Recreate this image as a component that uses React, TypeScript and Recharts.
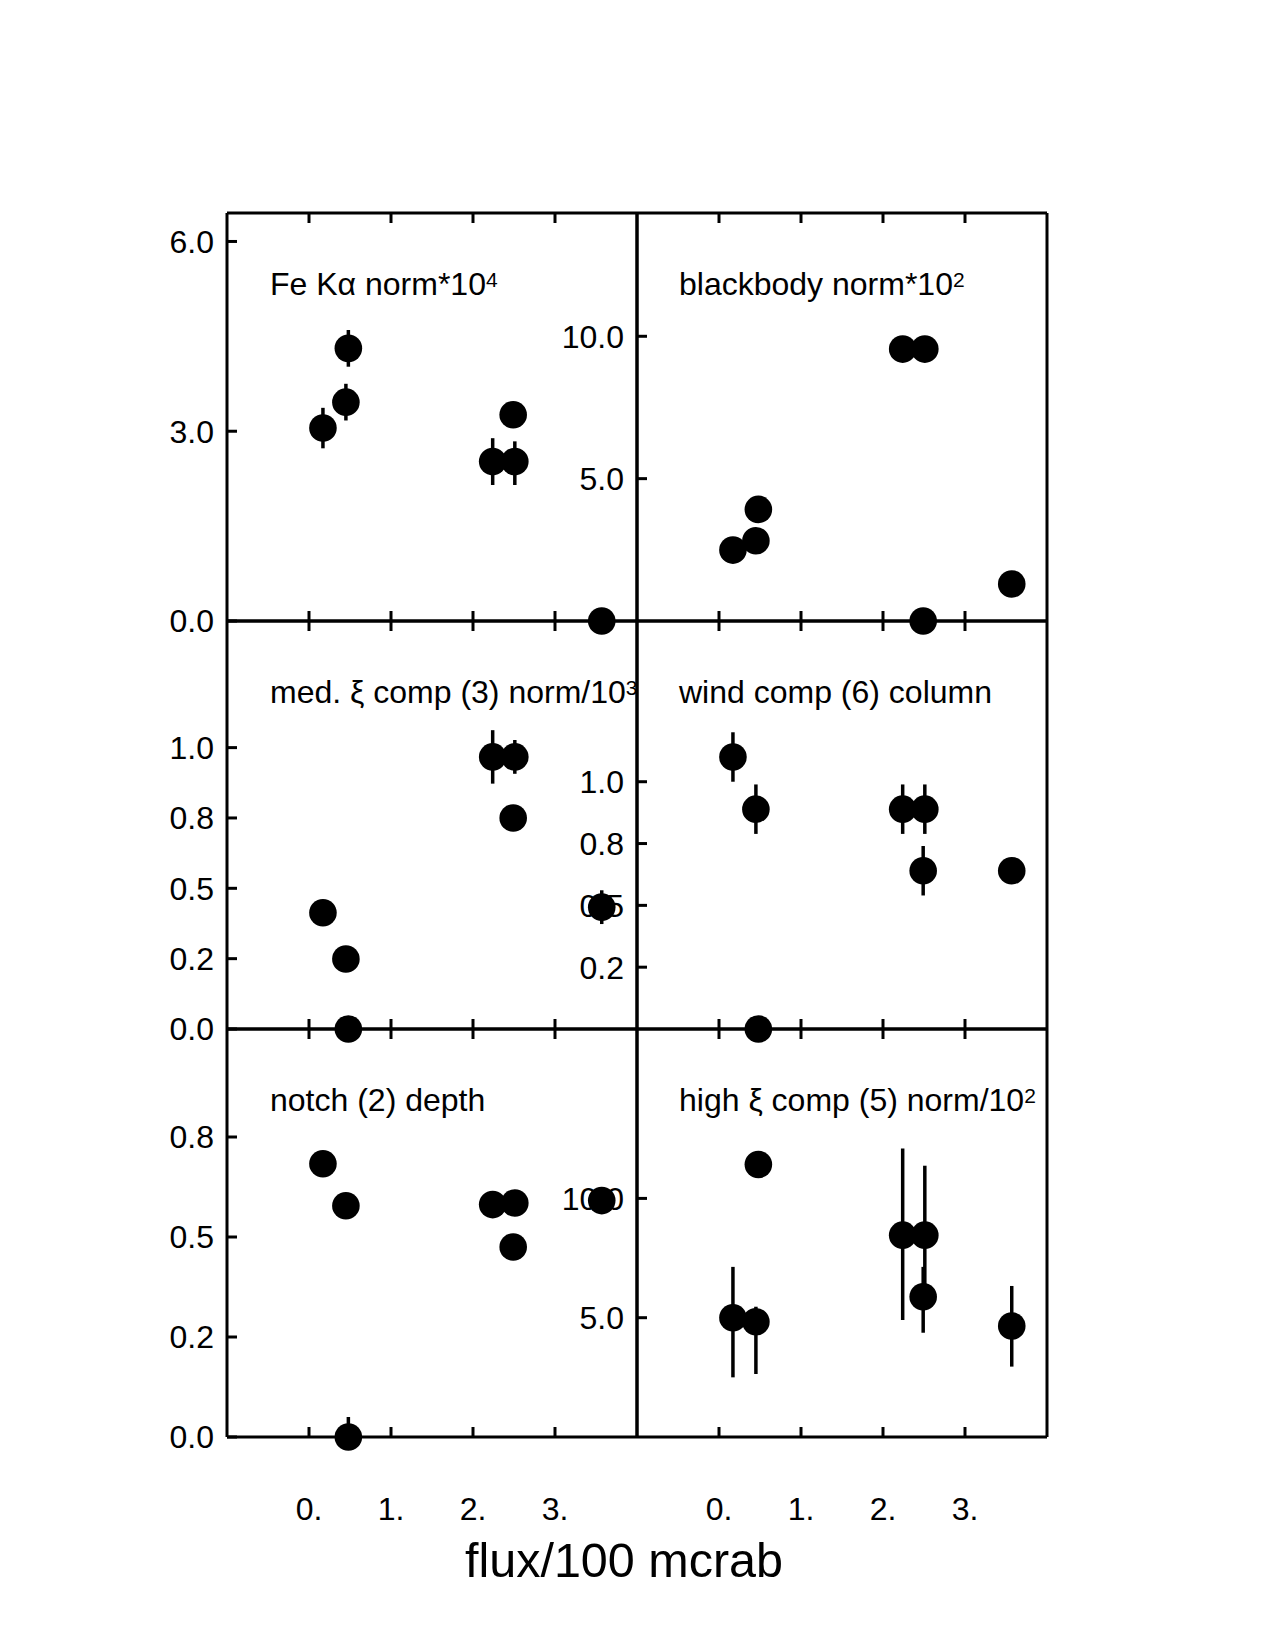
import React from 'react';
import { ScatterChart, Scatter, XAxis, YAxis, ErrorBar } from 'recharts';

// source flux for the seven observations (units of 100 mcrab)
const flux = [0.17, 0.45, 0.48, 2.24, 2.51, 2.49, 3.57];
const fluxTicks = [0, 1, 2, 3];
const fluxTickLabels = ['0.', '1.', '2.', '3.'];

// Fe K-alpha norm * 1e4
const feNorm = [3.05, 3.46, 4.31, 2.52, 2.52, 3.26, 0];
const feNormErr: any[] = [0.32, 0.29, 0.29, 0.37, [0.37, 0.32], 0, 0];
const feTicks = [0, 3, 6];
const feTickLabels = ['0.0', '3.0', '6.0'];

// blackbody norm * 1e2
const bbNorm = [2.49, 2.82, 3.92, 9.55, 9.55, 0, 1.3];
const bbNormErr: any[] = [0, 0, 0, 0, 0, 0, 0];
const bbTicks = [5, 10];
const bbTickLabels = ['5.0', '10.0'];

// medium xi component (3) norm / 1e3
const medNorm = [0.413, 0.249, 0, 0.967, 0.967, 0.75, 0.433];
const medNormErr: any[] = [0, 0, 0, 0.095, 0.06, 0, 0.06];
const medTicks = [0, 0.25, 0.5, 0.75, 1];
const medTickLabels = ['0.0', '0.2', '0.5', '0.8', '1.0'];

// wind component (6) column
const windCol = [1.1, 0.889, 0, 0.889, 0.889, 0.64, 0.64];
const windColErr: any[] = [0.1, 0.1, 0, 0.1, 0.1, 0.1, 0];
const windTicks = [0.25, 0.5, 0.75, 1];
const windTickLabels = ['0.2', '0.5', '0.8', '1.0'];

// notch (2) depth
const notchDepth = [0.683, 0.578, 0, 0.581, 0.585, 0.475, 0.591];
const notchDepthErr: any[] = [0, 0, [0, 0.05], 0, 0, 0, 0];
const notchTicks = [0, 0.25, 0.5, 0.75];
const notchTickLabels = ['0.0', '0.2', '0.5', '0.8'];

// high xi component (5) norm / 1e2
const highNorm = [5.0, 4.83, 11.42, 8.46, 8.46, 5.88, 4.65];
const highNormErr: any[] = [[2.5, 2.13], [2.19, 0.63], 0, [3.56, 3.63], [2.6, 2.91], [1.51, 1.25], [1.7, 1.68]];
const highTicks = [5, 10];
const highTickLabels = ['5.0', '10.0'];

const FONT = '"Liberation Sans", Arial, Helvetica, sans-serif';
const PLOT_W = 410;
const PLOT_H = 408;
const AX_L = 110;
const PAD = 22;
const LINE = { stroke: '#000', strokeWidth: 3 };
const TICK_TEXT = { fontSize: 32, fill: '#000', fontFamily: FONT };

const Dot = (p: any) => <circle cx={p.cx} cy={p.cy} r={13.8} fill="#000" />;
// tick marks only, no label
const NoLabel = () => <g />;
const NoShape = () => <g />;

interface PanelProps {
  left: number;
  top: number;
  ys: number[];
  errs: any[];
  yMax: number;
  ticks: number[];
  tickLabels: string[];
  xLabels?: boolean;
}

const Panel = ({ left, top, ys, errs, yMax, ticks, tickLabels, xLabels }: PanelProps) => {
  const bottomH = xLabels ? 150 : PAD;
  const data = flux.map((x, i) => ({ x, y: ys[i], err: errs[i] }));

  return (
    <div style={{ position: 'absolute', left: left - AX_L, top: top - PAD }}>
      <ScatterChart
        width={AX_L + PLOT_W + PAD}
        height={PAD + PLOT_H + bottomH}
        margin={{ top: 0, right: 0, bottom: 0, left: 0 }}
      >
        <XAxis
          xAxisId="b"
          dataKey="x"
          type="number"
          domain={[-1, 4]}
          ticks={fluxTicks}
          interval={0}
          orientation="bottom"
          height={bottomH}
          axisLine={LINE}
          tickLine={LINE}
          tickSize={-10}
          tickMargin={70}
          tick={xLabels ? TICK_TEXT : NoLabel}
          tickFormatter={(v: number, i: number) => fluxTickLabels[i]}
        />
        <XAxis
          xAxisId="t"
          dataKey="x"
          type="number"
          domain={[-1, 4]}
          ticks={fluxTicks}
          interval={0}
          orientation="top"
          height={PAD}
          axisLine={LINE}
          tickLine={LINE}
          tickSize={-10}
          tick={NoLabel}
        />
        <YAxis
          yAxisId="l"
          dataKey="y"
          type="number"
          domain={[0, yMax]}
          ticks={ticks}
          interval={0}
          width={AX_L}
          axisLine={LINE}
          tickLine={LINE}
          tickSize={-10}
          tickMargin={23}
          tick={TICK_TEXT}
          tickFormatter={(v: number, i: number) => tickLabels[i]}
        />
        <YAxis
          yAxisId="r"
          dataKey="y"
          type="number"
          orientation="right"
          domain={[0, yMax]}
          width={PAD}
          axisLine={LINE}
          tickLine={false}
          tick={false}
        />
        {/* invisible series so the top and right frame axes get a scale */}
        <Scatter xAxisId="t" yAxisId="r" data={data} shape={NoShape} isAnimationActive={false} />
        <Scatter xAxisId="b" yAxisId="l" data={data} fill="#000" shape={Dot} isAnimationActive={false}>
          <ErrorBar dataKey="err" direction="y" width={0} stroke="#000" strokeWidth={3.5} isAnimationActive={false} />
        </Scatter>
      </ScatterChart>
    </div>
  );
};

const Sup = ({ children }: { children: string }) => (
  <tspan fontSize={21} dy={-8}>{children}</tspan>
);

export default function App() {
  const colL = 227;
  const colR = 637;
  const rows = [213, 621, 1029];

  return (
    <div style={{ position: 'absolute', left: 0, top: 0, width: 1275, height: 1650, background: '#fff', overflow: 'hidden' }}>
      <Panel left={colL} top={rows[0]} ys={feNorm} errs={feNormErr} yMax={6.45} ticks={feTicks} tickLabels={feTickLabels} />
      <Panel left={colR} top={rows[0]} ys={bbNorm} errs={bbNormErr} yMax={14.33} ticks={bbTicks} tickLabels={bbTickLabels} />
      <Panel left={colL} top={rows[1]} ys={medNorm} errs={medNormErr} yMax={1.45} ticks={medTicks} tickLabels={medTickLabels} />
      <Panel left={colR} top={rows[1]} ys={windCol} errs={windColErr} yMax={1.65} ticks={windTicks} tickLabels={windTickLabels} />
      <Panel left={colL} top={rows[2]} ys={notchDepth} errs={notchDepthErr} yMax={1.02} ticks={notchTicks} tickLabels={notchTickLabels} xLabels />
      <Panel left={colR} top={rows[2]} ys={highNorm} errs={highNormErr} yMax={17.1} ticks={highTicks} tickLabels={highTickLabels} xLabels />

      <svg width={1275} height={1650} style={{ position: 'absolute', left: 0, top: 0, pointerEvents: 'none' }}>
        <g fontFamily={FONT} fontSize={32} fill="#000">
          <text x={colL + 43} y={rows[0] + 82}>Fe Kα norm*10<Sup>4</Sup></text>
          <text x={colR + 42} y={rows[0] + 82}>blackbody norm*10<Sup>2</Sup></text>
          <text x={colL + 43} y={rows[1] + 82}>med. ξ comp (3) norm/10<Sup>3</Sup></text>
          <text x={colR + 42} y={rows[1] + 82}>wind comp (6) column</text>
          <text x={colL + 43} y={rows[2] + 82}>notch (2) depth</text>
          <text x={colR + 42} y={rows[2] + 82}>high ξ comp (5) norm/10<Sup>2</Sup></text>
          <text x={624} y={1577} fontSize={48.5} textAnchor="middle">flux/100 mcrab</text>
        </g>
      </svg>
    </div>
  );
}
